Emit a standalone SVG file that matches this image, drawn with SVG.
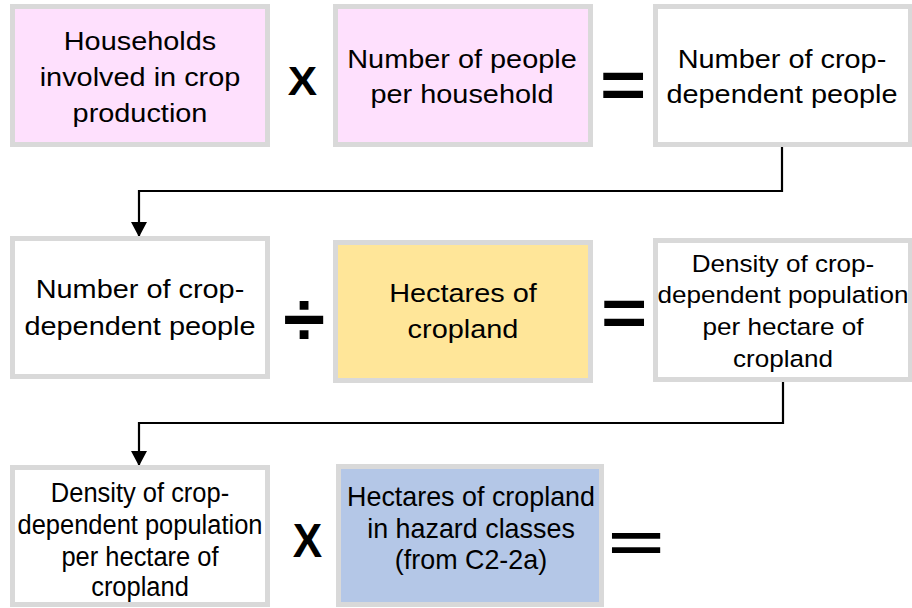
<svg xmlns="http://www.w3.org/2000/svg" width="912" height="608" viewBox="0 0 912 608">
<style>
.box{stroke:#d9d9d9;stroke-width:5}
.pink{fill:#fee0fd}
.white{fill:#ffffff}
.yellow{fill:#ffe699}
.blue{fill:#b4c7e7}
text{font-family:"Liberation Sans",Arial,sans-serif;fill:#000;text-anchor:middle}
.t{font-size:26.5px}
.s{font-size:23.5px}
.b{font-size:28px}
.op{font-weight:bold}
.conn{fill:none;stroke:#000;stroke-width:2.2}
</style>
<defs>
<marker id="arr" markerUnits="userSpaceOnUse" markerWidth="16" markerHeight="16" refX="15" refY="8" orient="auto">
<path d="M0,0 L15,8 L0,16 z" fill="#000"/>
</marker>
</defs>
<rect width="912" height="608" fill="#fff"/>

<g id="connectors">
<path class="conn" d="M782,147 V191 H139 V237" marker-end="url(#arr)"/>
<path class="conn" d="M783,381 V423 H139 V466" marker-end="url(#arr)"/>
</g>

<g id="n1">
<rect class="box pink" x="12.5" y="6.5" width="255" height="138"/>
<text class="t" transform="matrix(1.09 0 0 1 140 0)"><tspan x="0" y="50">Households</tspan><tspan x="0" y="86">involved in crop</tspan><tspan x="0" y="122">production</tspan></text>
</g>
<g id="op1"><text class="op" font-size="40" transform="matrix(1.1 0 0 1 302.5 95)">X</text></g>
<g id="n2">
<rect class="box pink" x="335.5" y="6.5" width="255" height="138"/>
<text class="t" transform="matrix(1.09 0 0 1 462 0)"><tspan x="0" y="68">Number of people</tspan><tspan x="0" y="103">per household</tspan></text>
</g>
<g id="op2"><text class="op" font-size="66" transform="matrix(1.2 0 0 1 623 108)">=</text></g>
<g id="n3">
<rect class="box white" x="655.5" y="6.5" width="255" height="138"/>
<text class="t" transform="matrix(1.09 0 0 1 782 0)"><tspan x="0" y="68">Number of crop-</tspan><tspan x="0" y="103">dependent people</tspan></text>
</g>

<g id="n4">
<rect class="box white" x="12.5" y="238.5" width="255" height="138"/>
<text class="t" transform="matrix(1.09 0 0 1 140 0)"><tspan x="0" y="298">Number of crop-</tspan><tspan x="0" y="335">dependent people</tspan></text>
</g>
<g id="op3"><text class="op" font-size="76" transform="matrix(1 0 0 1 304 345)">÷</text></g>
<g id="n5">
<rect class="box yellow" x="335.5" y="242.5" width="255" height="138"/>
<text class="t" transform="matrix(1.09 0 0 1 463 0)"><tspan x="0" y="302">Hectares of</tspan><tspan x="0" y="338">cropland</tspan></text>
</g>
<g id="op4"><text class="op" font-size="66" transform="matrix(1.2 0 0 1 624 336)">=</text></g>
<g id="n6">
<rect class="box white" x="655.5" y="240.5" width="255" height="139"/>
<text class="s" transform="matrix(1.11 0 0 1 783 0)"><tspan x="0" y="272">Density of crop-</tspan><tspan x="0" y="303">dependent population</tspan><tspan x="0" y="335">per hectare of</tspan><tspan x="0" y="367">cropland</tspan></text>
</g>

<g id="n7">
<rect class="box white" x="12.5" y="467.5" width="255" height="137"/>
<text class="b" transform="matrix(0.91 0 0 1 140 0)"><tspan x="0" y="502">Density of crop-</tspan><tspan x="0" y="534">dependent population</tspan><tspan x="0" y="566">per hectare of</tspan><tspan x="0" y="596">cropland</tspan></text>
</g>
<g id="op5"><text class="op" font-size="49" transform="matrix(0.9 0 0 1 307.5 557)">X</text></g>
<g id="n8">
<rect class="box blue" x="338.5" y="466.5" width="263" height="138"/>
<text class="b" transform="matrix(0.96 0 0 1 471 0)"><tspan x="0" y="506">Hectares of cropland</tspan><tspan x="0" y="538">in hazard classes</tspan><tspan x="0" y="569">(from C2-2a)</tspan></text>
</g>
<g id="op6"><text class="op" font-size="54" transform="matrix(1.78 0 0 1 636 561)">=</text></g>
</svg>
